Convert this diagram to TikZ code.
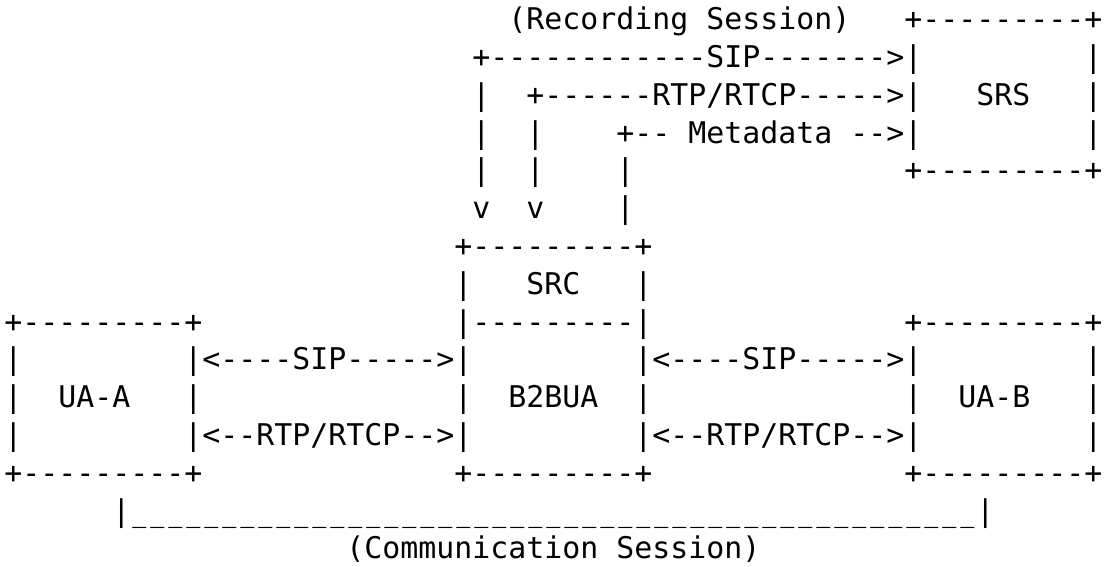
\documentclass[tikz,border=0pt]{standalone}
\usepackage{fontspec}
\setmonofont{DejaVu Sans Mono}
\newcommand\gap[1]{\hskip#1\fontcharwd\font`x\relax}
\newcommand\usc{\makebox[\fontcharwd\font`x]{\scalebox{0.78}[1]{\_}}}
\newcommand\uten{\usc\usc\usc\usc\usc\usc\usc\usc\usc\usc}
\begin{document}
\begin{tikzpicture}[x=0.75pt,y=-0.75pt,
  asciirow/.style={anchor=base west, inner sep=0pt, outer sep=0pt,
    font=\ttfamily\fontsize{22.42}{28}\selectfont, text=black}]
\fill[white] (0,0) rectangle (1110,567);
\useasboundingbox (0,0) rectangle (1110,567);
\node[asciirow] (r1) at (4.5,29.7) {\gap{28}(Recording Session)\gap{3}+---------+};
\node[asciirow] (r2) at (4.5,67.5) {\gap{26}+------------SIP------->|\gap{9}|};
\node[asciirow] (r3) at (4.5,105.3) {\gap{26}|\gap{2}+------RTP/RTCP----->|\gap{3}SRS\gap{3}|};
\node[asciirow] (r4) at (4.5,143.1) {\gap{26}|\gap{2}|\gap{4}+-- Metadata -->|\gap{9}|};
\node[asciirow] (r5) at (4.5,180.9) {\gap{26}|\gap{2}|\gap{4}|\gap{15}+---------+};
\node[asciirow] (r6) at (4.5,218.7) {\gap{26}v\gap{2}v\gap{4}|};
\node[asciirow] (r7) at (4.5,256.5) {\gap{25}+---------+};
\node[asciirow] (r8) at (4.5,294.3) {\gap{25}|\gap{3}SRC\gap{3}|};
\node[asciirow] (r9) at (4.5,332.1) {+---------+\gap{14}|---------|\gap{14}+---------+};
\node[asciirow] (r10) at (4.5,369.9) {|\gap{9}|<----SIP----->|\gap{9}|<----SIP----->|\gap{9}|};
\node[asciirow] (r11) at (4.5,407.7) {|\gap{2}UA-A\gap{3}|\gap{14}|\gap{2}B2BUA\gap{2}|\gap{14}|\gap{2}UA-B\gap{3}|};
\node[asciirow] (r12) at (4.5,445.5) {|\gap{9}|<--RTP/RTCP-->|\gap{9}|<--RTP/RTCP-->|\gap{9}|};
\node[asciirow] (r13) at (4.5,483.3) {+---------+\gap{14}+---------+\gap{14}+---------+};
\node[asciirow] (r14) at (4.5,521.1) {\gap{6}|\uten\uten\uten\uten\usc\usc\usc\usc\usc\usc\usc|};
\node[asciirow] (r15) at (4.5,558.9) {\gap{19}(Communication Session)};
\end{tikzpicture}
\end{document}
